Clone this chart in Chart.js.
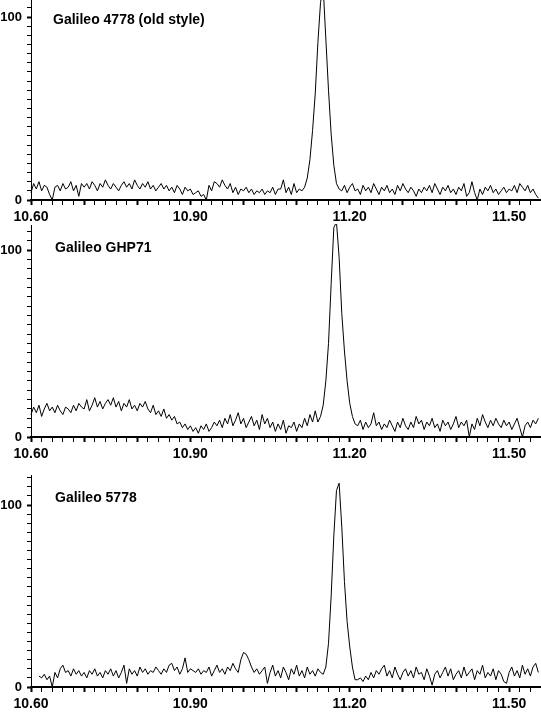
<!DOCTYPE html>
<html>
<head>
<meta charset="utf-8">
<script src="https://cdn.jsdelivr.net/npm/chart.js@4/dist/chart.umd.min.js"></script>
<style>
  html, body { margin: 0; padding: 0; background: #fff; }
  #wrap { position: relative; width: 541px; height: 713px; overflow: hidden; }
  canvas { position: absolute; left: 0; }
  .ttl { position: absolute; font: bold 14px "Liberation Sans", Arial, sans-serif; color: #000; line-height: 14px; white-space: nowrap; }
</style>
</head>
<body>
<div id="wrap">
  <canvas id="c1" width="541" height="224" style="top:0px"></canvas>
  <canvas id="c2" width="541" height="236" style="top:224px"></canvas>
  <canvas id="c3" width="541" height="253" style="top:460px"></canvas>
  <div class="ttl" id="t1" style="left:53px; top:12px"></div>
  <div class="ttl" id="t2" style="left:55px; top:240px"></div>
  <div class="ttl" id="t3" style="left:55px; top:490px"></div>
</div>
<script>
// ---- data (retention time grid: 10.600 + i*0.005) ----
const xStart = 10.60;
const xStep = 0.005;
const xMin = 10.60;
const xMax = 11.56;

const panelTitles = ['Galileo 4778 (old style)', 'Galileo GHP71', 'Galileo 5778'];
const xTickLabels = ['10.60', '10.90', '11.20', '11.50'];
const yTickLabels = ['0', '100'];

const galileo4778 = [
  4, 9, 6, 10, 5, 8, 7, 3, 0, 7,
  8, 5, 9, 6, 7, 10, 5, 8, 2, 9,
  7, 9, 6, 10, 8, 5, 9, 7, 11, 8,
  6, 9, 7, 5, 8, 10, 7, 9, 6, 11,
  8, 6, 9, 7, 10, 6, 8, 5, 7, 9,
  6, 8, 5, 7, 4, 8, 6, 3, 7, 5,
  6, 3, 4, 5, 2, 3, 0, 8, 5, 10,
  9, 7, 11, 8, 6, 9, 4, 7, 3, 6,
  5, 7, 4, 6, 3, 5, 4, 6, 3, 5,
  4, 7, 3, 6, 6, 11, 4, 7, 3, 9,
  4, 6,
  5, 7, 12, 22, 38, 58, 86, 108, 116, 88, 60, 36, 19, 9, 6,
  5, 8, 4, 7, 9, 5, 6, 3, 8,
  5, 7, 4, 9, 6, 3, 7, 5, 8, 4,
  6, 3, 8, 5, 9, 6, 4, 7, 5, 2,
  6, 4, 7, 5, 8, 4, 9, 6, 3, 7,
  5, 8, 4, 6, 3, 7, 5, 9, 2, 4,
  10, 4, 0, 6, 3, 7, 5, 8, 4, 6,
  3, 5, 7, 4, 6, 5, 8, 4, 9, 7,
  5, 8, 4, 6, 3, 1
];

const galileoGHP71 = [
  12, 16, 13, 17, 11, 15, 18, 14, 16, 13,
  17, 14, 12, 16, 15, 13, 17, 14, 18, 16,
  15, 20, 14, 17, 21, 16, 19, 15, 18, 20,
  17, 21, 16, 19, 14, 18, 16, 20, 15, 17,
  14, 18, 16, 19, 15, 13, 17, 12, 14, 11,
  15, 10, 12, 9, 11, 7, 8, 5, 7, 4,
  6, 3, 5, 2, 6, 4, 7, 3, 5, 8,
  6, 9, 5, 10, 7, 12, 6, 9, 13, 7,
  10, 5, 8, 11, 6, 9, 4, 12, 7, 10,
  5, 8, 3, 7, 4, 9, 2, 6, 5, 8,
  3, 7, 5, 10, 6, 12, 8, 14,
  8, 11, 17, 30, 50, 82, 112, 115, 96, 66, 46, 30, 18, 11, 7,
  6, 9, 4, 8, 5, 7, 13, 6, 8, 4,
  7, 5, 9, 6, 3, 8, 5, 10, 6, 4,
  8, 5, 11, 7, 9, 4, 8, 6, 10, 5,
  7, 3, 9, 6, 8, 4, 7, 11, 5, 8,
  6, 9, 0, 7, 4, 10, 6, 12, 8, 5,
  9, 6, 10, 7, 5, 9, 6, 8, 4, 7,
  10, 5, 0, 6, 8, 5, 9, 7, 10
];

const galileo5778 = [
  null, null, null,
  6, 5, 7, 4, 6, 0, 8, 5, 10, 12,
  8, 9, 6, 10, 7, 9, 6, 8, 5, 9,
  7, 10, 6, 8, 5, 9, 7, 10, 6, 9,
  5, 8, 12, 2, 10, 7, 9, 6, 11, 8,
  10, 7, 9, 8, 11, 9, 7, 10, 8, 12,
  13, 9, 11, 7, 10, 16, 8, 10, 9, 8,
  10, 7, 9, 8, 11, 6, 9, 12, 8, 10,
  7, 11, 9, 13, 10, 8, 15, 19, 18, 15,
  11, 8, 10, 7, 9, 11, 2, 8, 12, 6,
  9, 5, 11, 8, 4, 10, 7, 12, 6, 9,
  5, 11, 7, 9, 6, 10, 8,
  7, 11, 24, 50, 83, 108, 112, 88, 58, 36, 22, 11, 4,
  4, 5, 3, 6, 4, 8, 5, 9, 7, 10,
  12, 6, 9, 5, 11, 7, 4, 8, 10, 6,
  9, 5, 11, 7, 8, 4, 10, 6, 1, 7,
  9, 5, 8, 11, 6, 10, 4, 7, 9, 5,
  11, 6, 8, 10, 4, 9, 7, 12, 5, 8,
  6, 10, 4, 9, 7, 3, 2, 8, 11, 6,
  9, 5, 12, 7, 10, 6, 11, 13, 8
];

// ---- build charts ----
const FONT_X = { family: '"Liberation Sans", Arial, sans-serif', size: 14, weight: 'bold' };
const FONT_Y = { family: '"Liberation Sans", Arial, sans-serif', size: 13, weight: 'bold' };

function toPoints(values) {
  return values.map((v, i) => ({ x: Math.round((xStart + i * xStep) * 1000) / 1000, y: v }));
}

function xTickValues() {
  const out = [];
  for (let k = 0; k <= 48; k++) out.push(Math.round((xMin + k * 0.02) * 100) / 100);
  return out;
}

function makePanel(canvasId, values, yMax, padTop, xAxisHeight) {
  const ctx = document.getElementById(canvasId).getContext('2d');
  return new Chart(ctx, {
    type: 'line',
    data: {
      datasets: [{
        data: toPoints(values),
        borderColor: '#000',
        borderWidth: 1,
        pointRadius: 0,
        tension: 0,
        fill: false,
        spanGaps: false,
        clip: false
      }]
    },
    options: {
      responsive: false,
      animation: false,
      events: [],
      layout: { padding: { top: padTop, right: 0, left: 0, bottom: 0 } },
      plugins: { legend: { display: false }, tooltip: { enabled: false }, title: { display: false } },
      scales: {
        x: {
          type: 'linear',
          min: xMin,
          max: xMax,
          afterFit: (s) => { s.height = xAxisHeight; s.paddingLeft = 0; s.paddingRight = 0; },
          afterBuildTicks: (s) => { s.ticks = xTickValues().map(v => ({ value: v })); },
          border: { display: true, color: '#000', width: 2 },
          grid: {
            drawOnChartArea: false,
            drawTicks: true,
            tickLength: 5,
            color: '#000',
            tickWidth: (c) => {
              const v = c.tick ? c.tick.value : 0;
              return Math.abs(Math.round(v * 100) % 10) === 0 ? 2 : 1;
            }
          },
          ticks: {
            autoSkip: false,
            maxRotation: 0,
            padding: 4,
            color: '#000',
            font: FONT_X,
            callback: (v) => {
              const lab = xTickLabels.find(l => Math.abs(parseFloat(l) - v) < 1e-6);
              return lab === undefined ? '' : lab;
            }
          }
        },
        y: {
          type: 'linear',
          min: 0,
          max: yMax,
          afterFit: (s) => { s.width = 31; s.paddingTop = 0; s.paddingBottom = 0; },
          afterBuildTicks: (s) => {
            const t = [];
            for (let v = 0; v <= yMax; v += 5) t.push({ value: v });
            s.ticks = t;
          },
          border: { display: true, color: '#000', width: 1 },
          grid: {
            drawOnChartArea: false,
            drawTicks: true,
            tickLength: 4,
            color: '#000',
            tickWidth: (c) => (c.tick && (c.tick.value === 0 || c.tick.value === 100)) ? 2 : 1
          },
          ticks: {
            autoSkip: false,
            padding: 5,
            color: '#000',
            font: FONT_Y,
            callback: (v) => {
              const lab = yTickLabels.find(l => parseFloat(l) === v);
              return lab === undefined ? '' : lab;
            }
          }
        }
      }
    }
  });
}

makePanel('c1', galileo4778, 109.3, 0, 24);
makePanel('c2', galileoGHP71, 113.4, 1, 23);
makePanel('c3', galileo5778, 116.5, 15, 26);

document.getElementById('t1').textContent = panelTitles[0];
document.getElementById('t2').textContent = panelTitles[1];
document.getElementById('t3').textContent = panelTitles[2];
</script>
</body>
</html>
